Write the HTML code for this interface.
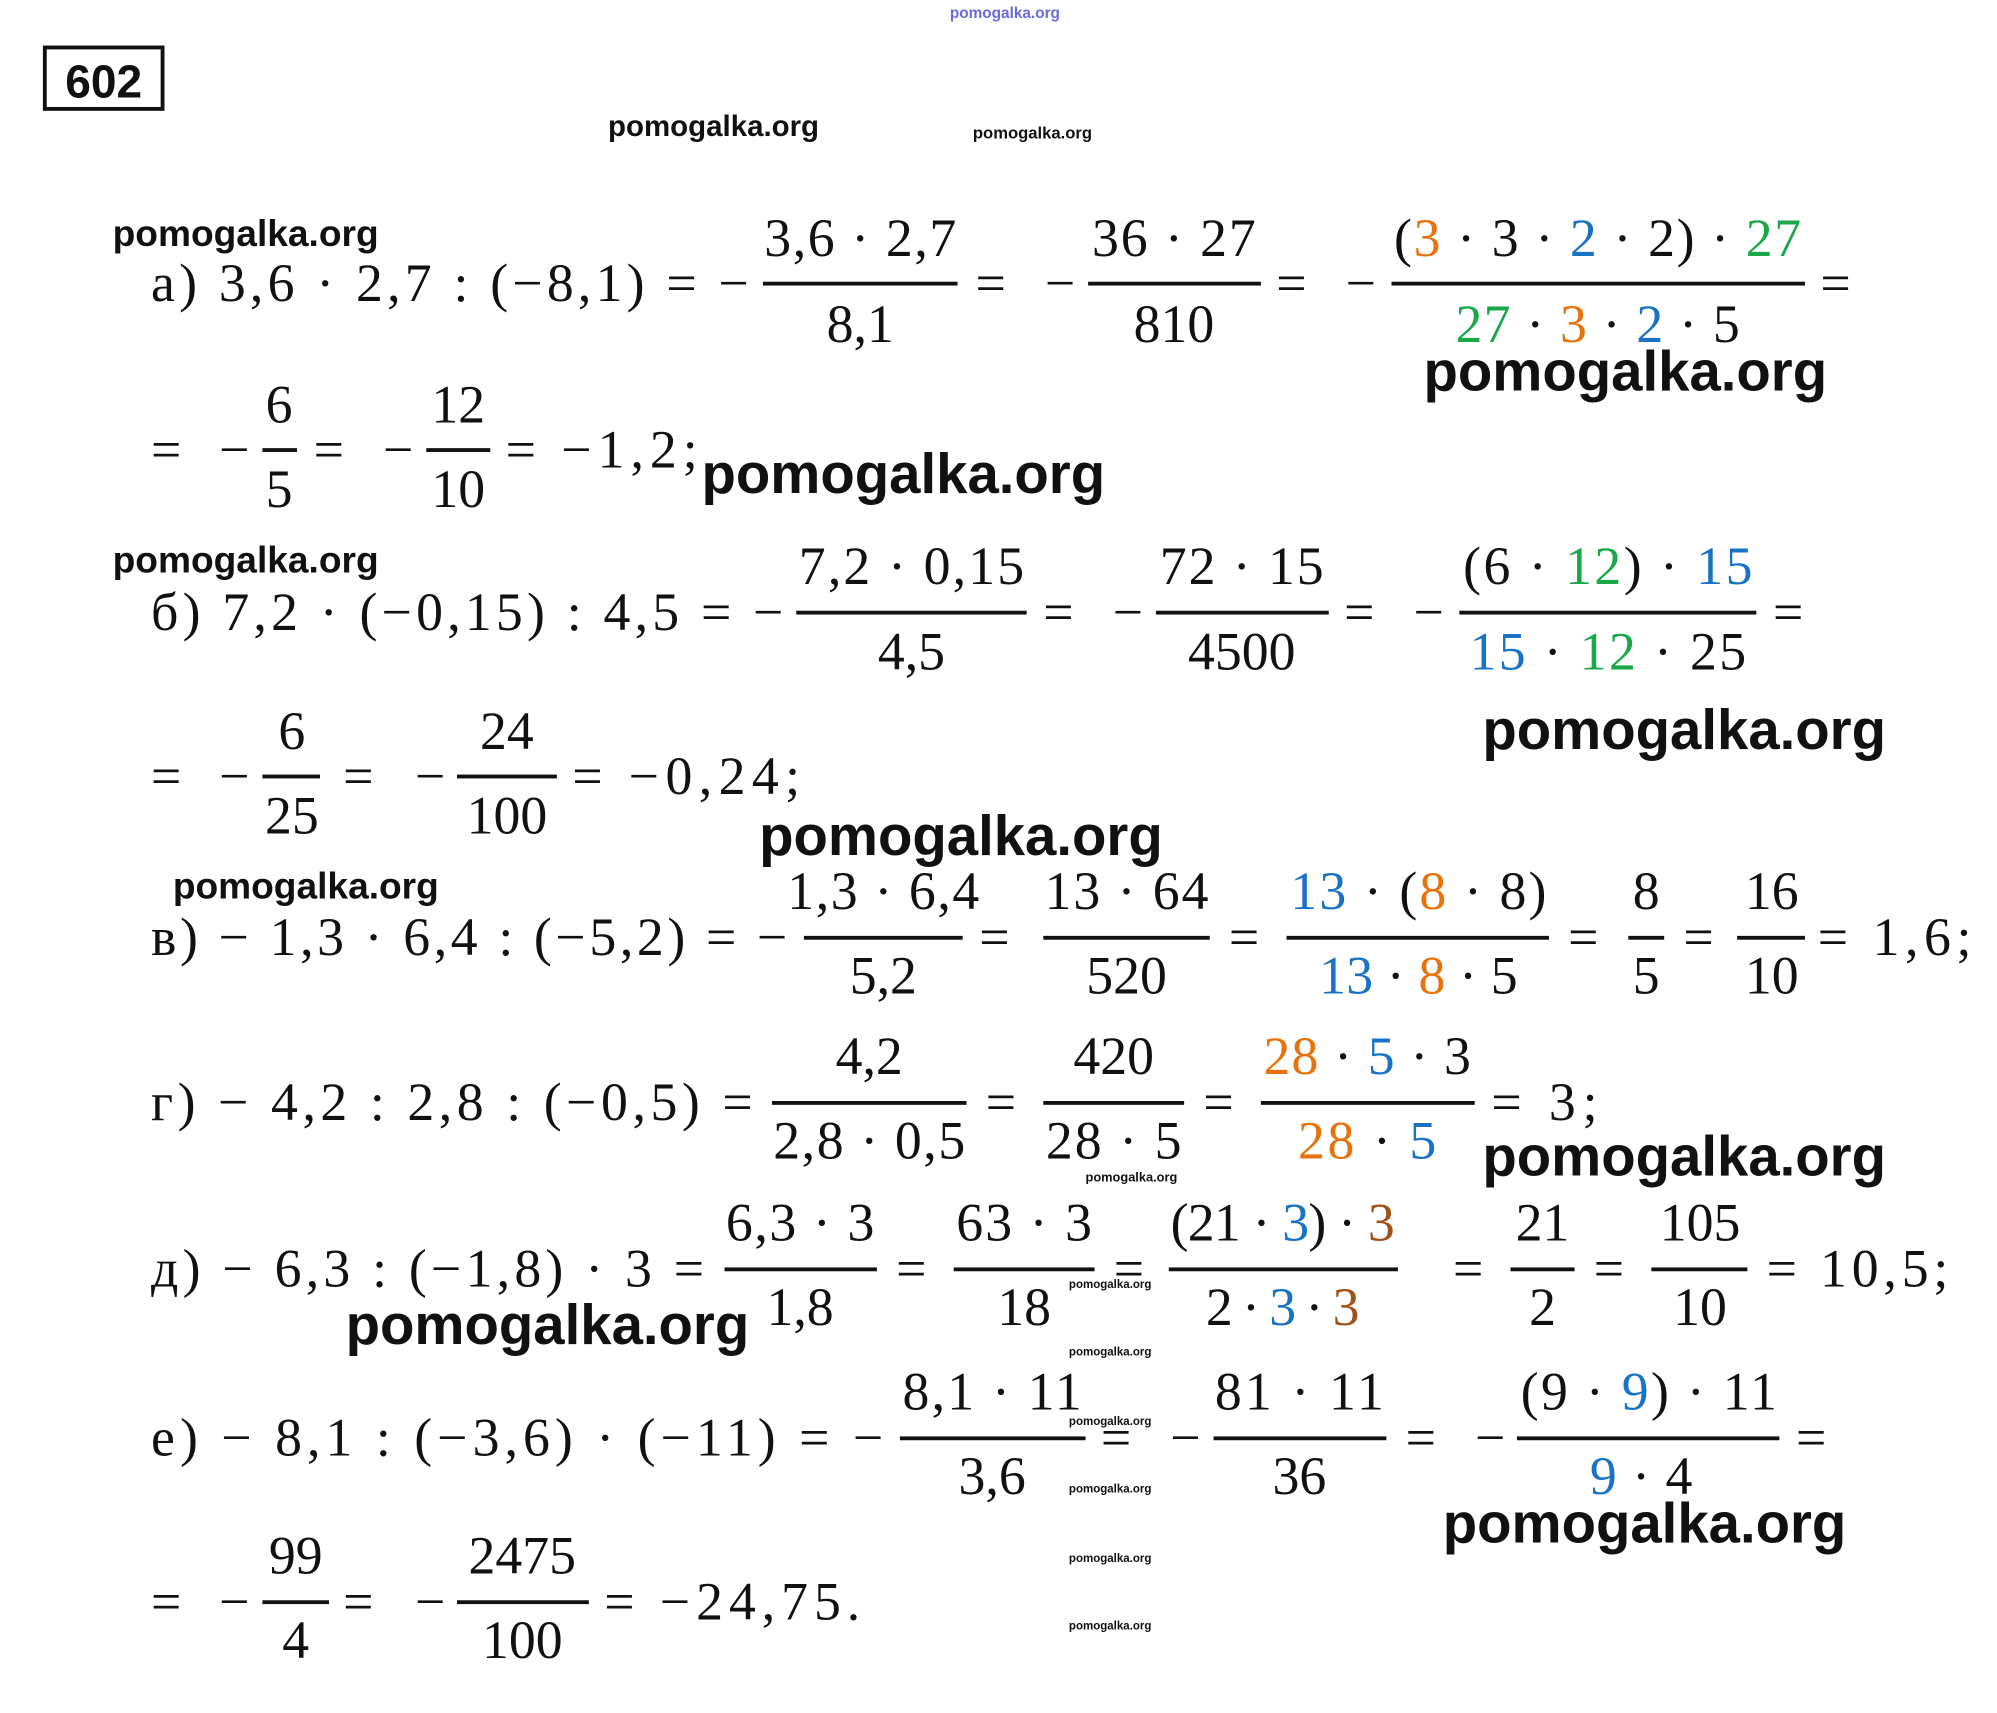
<!DOCTYPE html>
<html><head><meta charset="utf-8"><style>
html,body{margin:0;padding:0;background:#fff;}
svg{display:block}
.m{font-family:"Liberation Serif",serif;font-size:42px;fill:#111;}
.w{font-family:"Liberation Sans",sans-serif;font-weight:bold;fill:#111;}
.o{fill:#e8720c}.b{fill:#1a72c4}.g{fill:#1aa84a}.r{fill:#a0521c}
</style></head><body>
<svg width="1997" height="1713" viewBox="0 0 1560 1338" xmlns="http://www.w3.org/2000/svg">
<rect x="0" y="0" width="1560" height="1338" fill="#fff"/>
<rect x="35" y="37" width="92" height="48" fill="none" stroke="#111" stroke-width="3"/>
<text x="81" y="76" text-anchor="middle" class="w" style="font-size:36px">602</text>
<text x="785" y="14" text-anchor="middle" class="w" style="font-size:12px;fill:#6a6ad8">pomogalka.org</text>
<text x="475" y="106" class="w" style="font-size:23px">pomogalka.org</text>
<text x="760" y="108" class="w" style="font-size:13px">pomogalka.org</text>

<g class="m">
<!-- a -->
<text x="88" y="192" class="w" style="font-size:29px">pomogalka.org</text>
<text x="118" y="235" textLength="467" lengthAdjust="spacing">а) 3,6 · 2,7 : (−8,1) = −</text>
<rect x="596" y="220" width="152" height="3" fill="#111"/>
<text x="672" y="200" text-anchor="middle" textLength="150" lengthAdjust="spacing">3,6 · 2,7</text>
<text x="672" y="267" text-anchor="middle">8,1</text>
<text x="762" y="235" textLength="78" lengthAdjust="spacing">= −</text>
<rect x="850" y="220" width="135" height="3" fill="#111"/>
<text x="917" y="200" text-anchor="middle" textLength="128" lengthAdjust="spacing">36 · 27</text>
<text x="917" y="267" text-anchor="middle">810</text>
<text x="997" y="235" textLength="78" lengthAdjust="spacing">= −</text>
<rect x="1087" y="220" width="323" height="3" fill="#111"/>
<text x="1248" y="200" text-anchor="middle" textLength="318" lengthAdjust="spacing">(<tspan class="o">3</tspan> · 3 · <tspan class="b">2</tspan> · 2) · <tspan class="g">27</tspan></text>
<text x="1248" y="267" text-anchor="middle" textLength="222" lengthAdjust="spacing"><tspan class="g">27</tspan> · <tspan class="o">3</tspan> · <tspan class="b">2</tspan> · 5</text>
<text x="1422" y="235">=</text>
<text x="1112" y="305" class="w" style="font-size:44px">pomogalka.org</text>

<text x="118" y="365" textLength="77" lengthAdjust="spacing">= −</text>
<rect x="205" y="350" width="27" height="3" fill="#111"/>
<text x="218" y="330" text-anchor="middle">6</text>
<text x="218" y="396" text-anchor="middle">5</text>
<text x="245" y="365" textLength="78" lengthAdjust="spacing">= −</text>
<rect x="333" y="350" width="50" height="3" fill="#111"/>
<text x="358" y="330" text-anchor="middle">12</text>
<text x="358" y="396" text-anchor="middle">10</text>
<text x="395" y="365" textLength="150" lengthAdjust="spacing">= −1,2;</text>
<text x="548" y="385" class="w" style="font-size:44px">pomogalka.org</text>

<!-- б -->
<text x="88" y="447" class="w" style="font-size:29px">pomogalka.org</text>
<text x="118" y="492" textLength="494" lengthAdjust="spacing">б) 7,2 · (−0,15) : 4,5 = −</text>
<rect x="622" y="477" width="180" height="3" fill="#111"/>
<text x="712" y="456" text-anchor="middle" textLength="176" lengthAdjust="spacing">7,2 · 0,15</text>
<text x="712" y="523" text-anchor="middle">4,5</text>
<text x="815" y="492" textLength="78" lengthAdjust="spacing">= −</text>
<rect x="903" y="477" width="135" height="3" fill="#111"/>
<text x="970" y="456" text-anchor="middle" textLength="128" lengthAdjust="spacing">72 · 15</text>
<text x="970" y="523" text-anchor="middle">4500</text>
<text x="1050" y="492" textLength="78" lengthAdjust="spacing">= −</text>
<rect x="1140" y="477" width="232" height="3" fill="#111"/>
<text x="1256" y="456" text-anchor="middle" textLength="226" lengthAdjust="spacing">(6 · <tspan class="g">12</tspan>) · <tspan class="b">15</tspan></text>
<text x="1256" y="523" text-anchor="middle" textLength="216" lengthAdjust="spacing"><tspan class="b">15</tspan> · <tspan class="g">12</tspan> · 25</text>
<text x="1385" y="492">=</text>
<text x="1158" y="585" class="w" style="font-size:44px">pomogalka.org</text>

<text x="118" y="620" textLength="77" lengthAdjust="spacing">= −</text>
<rect x="205" y="605" width="45" height="3" fill="#111"/>
<text x="228" y="585" text-anchor="middle">6</text>
<text x="228" y="651" text-anchor="middle">25</text>
<text x="268" y="620" textLength="80" lengthAdjust="spacing">= −</text>
<rect x="357" y="605" width="78" height="3" fill="#111"/>
<text x="396" y="585" text-anchor="middle">24</text>
<text x="396" y="651" text-anchor="middle">100</text>
<text x="447" y="620" textLength="178" lengthAdjust="spacing">= −0,24;</text>
<text x="593" y="668" class="w" style="font-size:44px">pomogalka.org</text>

<!-- в -->
<text x="135" y="702" class="w" style="font-size:29px">pomogalka.org</text>
<text x="118" y="746" textLength="497" lengthAdjust="spacing">в) − 1,3 · 6,4 : (−5,2) = −</text>
<rect x="628" y="731" width="124" height="3" fill="#111"/>
<text x="690" y="710" text-anchor="middle" textLength="150" lengthAdjust="spacing">1,3 · 6,4</text>
<text x="690" y="776" text-anchor="middle">5,2</text>
<text x="765" y="746">=</text>
<rect x="815" y="731" width="130" height="3" fill="#111"/>
<text x="880" y="710" text-anchor="middle" textLength="128" lengthAdjust="spacing">13 · 64</text>
<text x="880" y="776" text-anchor="middle">520</text>
<text x="960" y="746">=</text>
<rect x="1005" y="731" width="205" height="3" fill="#111"/>
<text x="1108" y="710" text-anchor="middle" textLength="200" lengthAdjust="spacing"><tspan class="b">13</tspan> · (<tspan class="o">8</tspan> · 8)</text>
<text x="1108" y="776" text-anchor="middle" textLength="155" lengthAdjust="spacing"><tspan class="b">13</tspan> · <tspan class="o">8</tspan> · 5</text>
<text x="1225" y="746">=</text>
<rect x="1272" y="731" width="28" height="3" fill="#111"/>
<text x="1286" y="710" text-anchor="middle">8</text>
<text x="1286" y="776" text-anchor="middle">5</text>
<text x="1315" y="746">=</text>
<rect x="1357" y="731" width="53" height="3" fill="#111"/>
<text x="1384" y="710" text-anchor="middle">16</text>
<text x="1384" y="776" text-anchor="middle">10</text>
<text x="1420" y="746" textLength="120" lengthAdjust="spacing">= 1,6;</text>

<!-- г -->
<text x="118" y="875" textLength="470" lengthAdjust="spacing">г) − 4,2 : 2,8 : (−0,5) =</text>
<rect x="603" y="860" width="152" height="3" fill="#111"/>
<text x="679" y="839" text-anchor="middle">4,2</text>
<text x="679" y="905" text-anchor="middle" textLength="150" lengthAdjust="spacing">2,8 · 0,5</text>
<text x="770" y="875">=</text>
<rect x="815" y="860" width="110" height="3" fill="#111"/>
<text x="870" y="839" text-anchor="middle">420</text>
<text x="870" y="905" text-anchor="middle" textLength="106" lengthAdjust="spacing">28 · 5</text>
<text x="940" y="875">=</text>
<rect x="985" y="860" width="167" height="3" fill="#111"/>
<text x="1068" y="839" text-anchor="middle" textLength="162" lengthAdjust="spacing"><tspan class="o">28</tspan> · <tspan class="b">5</tspan> · 3</text>
<text x="1068" y="905" text-anchor="middle" textLength="108" lengthAdjust="spacing"><tspan class="o">28</tspan> · <tspan class="b">5</tspan></text>
<text x="1165" y="875" textLength="83" lengthAdjust="spacing">= 3;</text>
<text x="1158" y="918" class="w" style="font-size:44px">pomogalka.org</text>
<text x="848" y="923" class="w" style="font-size:10px">pomogalka.org</text>

<!-- д -->
<text x="118" y="1005" textLength="432" lengthAdjust="spacing">д) − 6,3 : (−1,8) · 3 =</text>
<rect x="566" y="990" width="119" height="3" fill="#111"/>
<text x="625" y="969" text-anchor="middle" textLength="116" lengthAdjust="spacing">6,3 · 3</text>
<text x="625" y="1035" text-anchor="middle">1,8</text>
<text x="700" y="1005">=</text>
<rect x="745" y="990" width="110" height="3" fill="#111"/>
<text x="800" y="969" text-anchor="middle" textLength="106" lengthAdjust="spacing">63 · 3</text>
<text x="800" y="1035" text-anchor="middle">18</text>
<text x="870" y="1005">=</text>
<rect x="913" y="990" width="179" height="3" fill="#111"/>
<text x="1002" y="969" text-anchor="middle" textLength="175" lengthAdjust="spacing">(21 · <tspan class="b">3</tspan>) · <tspan class="r">3</tspan></text>
<text x="1002" y="1035" text-anchor="middle" textLength="120" lengthAdjust="spacing">2 · <tspan class="b">3</tspan> · <tspan class="r">3</tspan></text>
<text x="1135" y="1005">=</text>
<rect x="1180" y="990" width="50" height="3" fill="#111"/>
<text x="1205" y="969" text-anchor="middle">21</text>
<text x="1205" y="1035" text-anchor="middle">2</text>
<text x="1245" y="1005">=</text>
<rect x="1290" y="990" width="75" height="3" fill="#111"/>
<text x="1328" y="969" text-anchor="middle">105</text>
<text x="1328" y="1035" text-anchor="middle">10</text>
<text x="1380" y="1005" textLength="142" lengthAdjust="spacing">= 10,5;</text>
<text x="270" y="1050" class="w" style="font-size:44px">pomogalka.org</text>

<!-- е -->
<text x="118" y="1137" textLength="572" lengthAdjust="spacing">е) − 8,1 : (−3,6) · (−11) = −</text>
<rect x="703" y="1122" width="145" height="3" fill="#111"/>
<text x="775" y="1101" text-anchor="middle" textLength="140" lengthAdjust="spacing">8,1 · 11</text>
<text x="775" y="1167" text-anchor="middle">3,6</text>
<text x="860" y="1137" textLength="78" lengthAdjust="spacing">= −</text>
<rect x="948" y="1122" width="135" height="3" fill="#111"/>
<text x="1015" y="1101" text-anchor="middle" textLength="132" lengthAdjust="spacing">81 · 11</text>
<text x="1015" y="1167" text-anchor="middle">36</text>
<text x="1098" y="1137" textLength="78" lengthAdjust="spacing">= −</text>
<rect x="1185" y="1122" width="205" height="3" fill="#111"/>
<text x="1288" y="1101" text-anchor="middle" textLength="200" lengthAdjust="spacing">(9 · <tspan class="b">9</tspan>) · 11</text>
<text x="1282" y="1167" text-anchor="middle" textLength="80" lengthAdjust="spacing"><tspan class="b">9</tspan> · 4</text>
<text x="1403" y="1137">=</text>
<text x="1127" y="1205" class="w" style="font-size:44px">pomogalka.org</text>

<text x="118" y="1265" textLength="77" lengthAdjust="spacing">= −</text>
<rect x="205" y="1250" width="52" height="3" fill="#111"/>
<text x="231" y="1229" text-anchor="middle">99</text>
<text x="231" y="1295" text-anchor="middle">4</text>
<text x="268" y="1265" textLength="80" lengthAdjust="spacing">= −</text>
<rect x="357" y="1250" width="103" height="3" fill="#111"/>
<text x="408" y="1229" text-anchor="middle">2475</text>
<text x="408" y="1295" text-anchor="middle">100</text>
<text x="472" y="1265" textLength="200" lengthAdjust="spacing">= −24,75.</text>
</g>
<g class="w" style="font-size:9px">
<text x="835" y="1006">pomogalka.org</text>
<text x="835" y="1059">pomogalka.org</text>
<text x="835" y="1113">pomogalka.org</text>
<text x="835" y="1166">pomogalka.org</text>
<text x="835" y="1220">pomogalka.org</text>
<text x="835" y="1273">pomogalka.org</text>
</g>
</svg>
</body></html>
